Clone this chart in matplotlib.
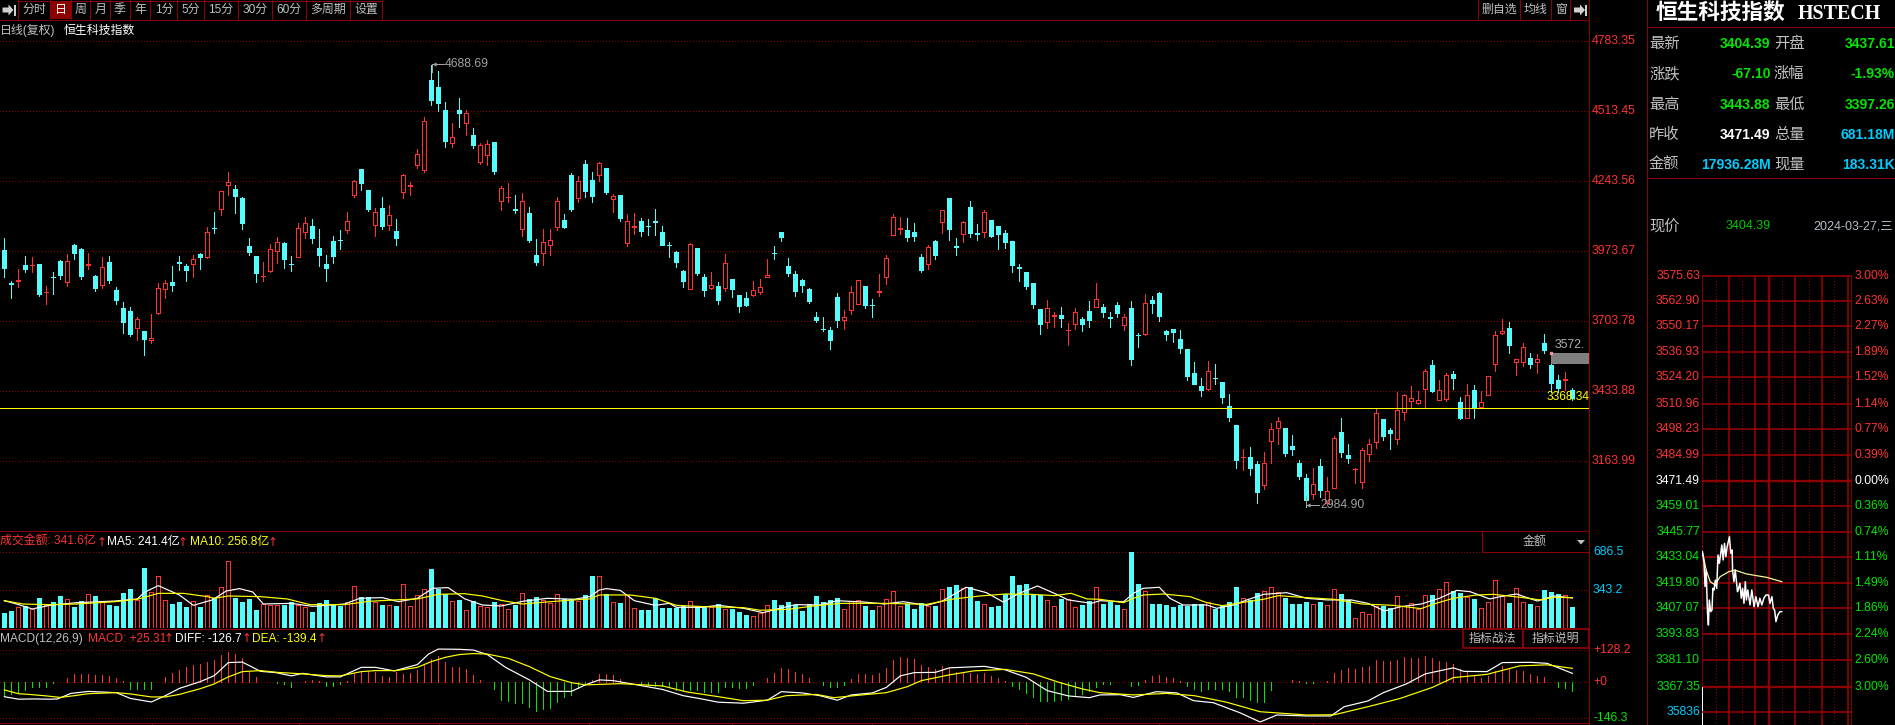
import matplotlib

matplotlib.use("Agg")

import matplotlib.pyplot as plt

# daily candles, index points
opens = [3976, 3849, 3857, 3918, 3917, 3922, 3813, 3873, 3934, 3854, 3995, 3980, 3920, 3876, 3841, 3930, 3822, 3753, 3741, 3676,
         3664, 3628, 3733, 3825, 3853, 3930, 3915, 3922, 3960, 3949, 4062, 4134, 4228, 4211, 4177, 3992, 3953, 3875, 3895, 3974,
         4003, 3923, 3951, 4044, 4069, 3984, 3922, 4011, 4016, 4055, 4188, 4288, 4208, 4073, 4138, 4073, 4049, 4201, 4225, 4304,
         4285, 4632, 4605, 4516, 4390, 4516, 4467, 4420, 4315, 4344, 4393, 4166, 4180, 4134, 4058, 4119, 3957, 3965, 3996, 4065,
         4092, 4265, 4177, 4308, 4246, 4265, 4292, 4173, 4188, 4003, 4066, 4088, 4070, 4088, 4046, 3996, 3969, 3895, 3827, 3984,
         3872, 3830, 3837, 3831, 3864, 3803, 3791, 3803, 3814, 3872, 3966, 4046, 3915, 3884, 3861, 3826, 3718, 3673, 3668, 3795,
         3706, 3745, 3768, 3837, 3765, 3816, 3873, 4034, 4059, 4053, 4046, 3949, 3922, 4011, 4085, 4177, 3991, 4038, 4142, 4041,
         4046, 4092, 4069, 4042, 4011, 3910, 3891, 3849, 3749, 3699, 3723, 3726, 3667, 3691, 3710, 3741, 3757, 3757, 3718, 3764,
         3687, 3753, 3650, 3652, 3783, 3810, 3664, 3672, 3633, 3595, 3502, 3452, 3440, 3483, 3467, 3375, 3302, 3177, 3178, 3151,
         3070, 3240, 3291, 3290, 3221, 3155, 3097, 3037, 3144, 3000, 3060, 3275, 3186, 3131, 3083, 3191, 3237, 3325, 3282, 3249,
         3353, 3395, 3385, 3439, 3533, 3399, 3402, 3498, 3390, 3330, 3437, 3370, 3416, 3535, 3655, 3676, 3543, 3543, 3560, 3546,
         3618, 3533, 3475, 3477, 3437.61]
highs = [4022, 3858, 3903, 3953, 3949, 3922, 3837, 3891, 3938, 3961, 3999, 3984, 3965, 3880, 3949, 3953, 3834, 3776, 3757, 3718,
         3664, 3730, 3849, 3861, 3915, 3953, 3922, 3957, 3965, 4065, 4123, 4204, 4277, 4227, 4181, 4023, 3953, 3930, 3999, 4026,
         4007, 3953, 4079, 4103, 4096, 4057, 3957, 4030, 4053, 4123, 4245, 4288, 4208, 4137, 4181, 4150, 4096, 4269, 4238, 4366,
         4489, 4688.69, 4666, 4547, 4466, 4562, 4516, 4447, 4389, 4400, 4393, 4223, 4235, 4188, 4196, 4142, 4019, 4057, 4057, 4181,
         4115, 4273, 4261, 4323, 4277, 4315, 4292, 4192, 4188, 4115, 4119, 4100, 4096, 4134, 4069, 4007, 3972, 3899, 4003, 3984,
         3884, 3891, 3853, 3961, 3864, 3803, 3814, 3857, 3864, 3942, 3992, 4046, 3945, 3895, 3864, 3830, 3737, 3718, 3679, 3810,
         3745, 3837, 3861, 3837, 3787, 3884, 3957, 4115, 4103, 4100, 4080, 3961, 3995, 4015, 4130, 4177, 4023, 4088, 4165, 4076,
         4130, 4092, 4069, 4053, 4011, 3922, 3891, 3849, 3749, 3783, 3737, 3757, 3695, 3753, 3718, 3780, 3849, 3768, 3737, 3776,
         3730, 3780, 3656, 3807, 3799, 3814, 3668, 3672, 3668, 3595, 3545, 3483, 3548, 3537, 3467, 3421, 3302, 3209, 3217, 3163,
         3198, 3309, 3332, 3290, 3263, 3165, 3113, 3136, 3171, 3101, 3259, 3329, 3228, 3136, 3213, 3248, 3363, 3325, 3290, 3429,
         3420, 3452, 3434, 3517, 3552, 3475, 3502, 3510, 3410, 3460, 3456, 3433, 3489, 3663, 3710, 3699, 3555, 3618, 3579, 3575,
         3652, 3580, 3494, 3506, 3443.88]
lows = [3873, 3791, 3834, 3891, 3893, 3799, 3768, 3807, 3864, 3837, 3942, 3864, 3903, 3818, 3830, 3849, 3768, 3656, 3645, 3629,
        3571, 3618, 3730, 3791, 3818, 3899, 3857, 3872, 3903, 3945, 4042, 4111, 4188, 4119, 4057, 3957, 3853, 3857, 3891, 3926,
        3907, 3895, 3949, 4023, 4003, 3915, 3857, 3926, 3980, 4042, 4181, 4208, 4127, 4030, 4057, 4053, 3995, 4177, 4188, 4292,
        4277, 4535, 4512, 4373, 4373, 4450, 4420, 4369, 4308, 4304, 4269, 4130, 4161, 4119, 4030, 4007, 3918, 3918, 3957, 4053,
        4061, 4127, 4161, 4181, 4161, 4242, 4192, 4123, 4088, 3992, 4038, 4030, 4034, 4034, 3995, 3949, 3911, 3834, 3826, 3880,
        3799, 3826, 3768, 3818, 3795, 3737, 3760, 3799, 3807, 3872, 3942, 4011, 3876, 3799, 3814, 3772, 3699, 3664, 3595, 3679,
        3672, 3730, 3768, 3753, 3718, 3799, 3845, 4034, 4038, 4011, 4011, 3891, 3903, 3942, 4042, 4015, 3957, 4007, 4026, 4015,
        4026, 4026, 3980, 3985, 3891, 3857, 3826, 3753, 3652, 3676, 3679, 3679, 3610, 3672, 3664, 3679, 3757, 3718, 3679, 3718,
        3668, 3533, 3602, 3649, 3733, 3703, 3629, 3622, 3579, 3475, 3460, 3413, 3437, 3460, 3386, 3317, 3136, 3128, 3109, 3001,
        3055, 3155, 3228, 3182, 3186, 3093, 2984.9, 3016, 3025, 2993, 3060, 3178, 3155, 3078, 3059, 3163, 3213, 3244, 3209, 3228,
        3321, 3370, 3381, 3370, 3428, 3399, 3395, 3439, 3325, 3330, 3329, 3370, 3416, 3510, 3651, 3580, 3494, 3529, 3521, 3502,
        3579, 3429, 3429, 3437, 3397.26]
closes = [3907, 3847, 3859, 3903, 3919, 3807, 3815, 3871, 3880, 3933, 3965, 3876, 3922, 3830, 3909, 3861, 3783, 3699, 3652, 3709,
          3633, 3636, 3828, 3848, 3841, 3928, 3899, 3940, 3949, 4044, 4060, 4202, 4238, 4184, 4080, 3969, 3888, 3877, 3979, 4007,
          3942, 3921, 4060, 4079, 4023, 3957, 3907, 3953, 4014, 4087, 4242, 4235, 4134, 4123, 4069, 4110, 4023, 4265, 4227, 4345,
          4472, 4554, 4543, 4396, 4411, 4504, 4503, 4381, 4380, 4384, 4281, 4214, 4182, 4132, 4165, 4015, 3930, 4007, 4014, 4165,
          4065, 4134, 4242, 4204, 4184, 4310, 4200, 4184, 4100, 4088, 4068, 4049, 4068, 4086, 3995, 3994, 3930, 3857, 3999, 3888,
          3822, 3841, 3783, 3925, 3826, 3760, 3764, 3822, 3832, 3880, 3964, 4026, 3888, 3818, 3841, 3780, 3706, 3671, 3629, 3706,
          3718, 3814, 3861, 3764, 3763, 3818, 3945, 4103, 4061, 4026, 4030, 3899, 3988, 3957, 4130, 4057, 3989, 4084, 4042, 4039,
          4123, 4030, 4038, 4008, 3918, 3908, 3838, 3768, 3691, 3753, 3725, 3714, 3669, 3737, 3691, 3706, 3787, 3737, 3716, 3733,
          3718, 3556, 3648, 3772, 3772, 3722, 3652, 3660, 3598, 3491, 3460, 3437, 3510, 3481, 3410, 3332, 3167, 3179, 3136, 3043,
          3155, 3286, 3317, 3194, 3209, 3105, 3014, 3073, 3051, 3047, 3250, 3198, 3174, 3133, 3205, 3228, 3348, 3259, 3271, 3359,
          3416, 3404, 3397, 3510, 3433, 3437, 3494, 3483, 3329, 3416, 3370, 3389, 3489, 3647, 3663, 3610, 3555, 3601, 3538, 3555,
          3591, 3464, 3444, 3479, 3404.39]

price_ticks = [4783.35, 4513.45, 4243.56, 3973.67, 3703.78, 3433.88, 3163.99]
cost_line = 3368.34

# turnover, 100m HKD
turnover = [136, 155, 188, 200, 173, 273, 212, 233, 291, 261, 191, 245, 309, 291, 233, 209, 200, 318, 355, 255,
            545, 327, 473, 255, 218, 236, 191, 245, 191, 300, 273, 373, 609, 273, 236, 264, 164, 218, 209, 209,
            209, 236, 209, 191, 145, 227, 255, 209, 203, 236, 382, 282, 282, 236, 209, 206, 200, 400, 200, 300,
            355, 536, 355, 309, 245, 255, 164, 245, 200, 188, 236, 215, 173, 209, 315, 264, 282, 255, 227, 309,
            264, 264, 245, 300, 473, 473, 309, 236, 227, 300, 182, 164, 164, 273, 182, 182, 182, 200, 245, 194,
            200, 188, 218, 173, 173, 145, 118, 109, 133, 209, 255, 209, 236, 209, 155, 218, 291, 236, 255, 273,
            173, 245, 255, 200, 164, 200, 264, 336, 200, 218, 173, 227, 200, 203, 355, 373, 391, 364, 373, 245,
            218, 191, 200, 309, 473, 391, 400, 300, 300, 255, 200, 264, 261, 191, 209, 245, 373, 218, 236, 209,
            173, 691, 400, 336, 218, 218, 209, 191, 209, 200, 218, 218, 233, 173, 200, 236, 373, 270, 255, 318,
            336, 373, 327, 273, 218, 218, 236, 218, 236, 209, 351, 309, 255, 91, 145, 127, 200, 200, 182, 291,
            200, 224, 173, 300, 300, 355, 418, 336, 318, 282, 264, 182, 236, 436, 291, 227, 364, 236, 218, 200,
            345, 327, 309, 300, 191]
turn_ma5_x = [0, 1.6, 4, 6.5, 10.3, 15.8, 19, 20, 22, 25, 27, 29.7, 31.7, 33.6, 35.5, 37, 41, 44, 48.6, 50.8, 54, 56.3, 59, 61.2,
              63.4, 65.8, 68.3, 71, 74, 77.6, 81.4, 83.6, 85, 86, 88, 90, 93, 95, 96, 99.6, 102, 105.6, 108.4, 110.8, 113, 116.5,
              119, 122.8, 125.7, 128.4, 131.8, 134, 137.4, 140.3, 142.7, 145, 147.6, 150, 152, 155.3, 156.5, 159.9, 161.3, 162.7,
              165, 166.5, 168.4, 171.8, 173.2, 175.6, 177.5, 179.9, 183.2, 186, 189, 192.4, 194.8, 197.2, 199.5, 202.4, 205, 207.5,
              209.4, 212.2, 213.7, 216, 219, 221.4, 224]
turn_ma5 = [248, 221, 173, 206, 230, 245, 264, 324, 385, 300, 206, 255, 336, 358, 327, 218, 224, 197, 218, 270, 276, 239, 270, 361,
            367, 264, 209, 200, 242, 270, 261, 285, 345, 358, 342, 248, 206, 224, 188, 188, 206, 179, 139, 179, 212, 209,
            248, 236, 218, 239, 206, 245, 370, 321, 236, 315, 382, 315, 255, 224, 248, 239, 315, 361,
            370, 270, 209, 209, 179, 209, 255, 306, 321, 270, 255, 255, 224, 155, 194, 218, 270, 342,
            330, 264, 285, 309, 245, 291, 273]
turn_ma10_x = [0, 2.7, 6.5, 10.3, 15.8, 19, 22, 25.6, 29, 30, 32, 36.6, 40.4, 43.7, 48.6, 52, 55.7, 59, 62, 65.7, 68.3, 71, 74, 78,
               81.4, 83.6, 85, 89.4, 93, 96, 100, 105.6, 108, 112, 115.6, 119.4, 125.7, 131.8, 135.6, 139.4, 143, 146.8, 150, 152.4,
               154.7, 156.5, 159.9, 161.3, 162.7, 165.6, 169.4, 171.8, 174, 177, 179.9, 182, 186, 190, 194, 198.4, 202.4, 204.2, 207,
               210.3, 212.7, 217, 219.4, 221.4, 224]
turn_ma10 = [248, 218, 212, 218, 239, 261, 315, 315, 285, 270, 291, 285, 264, 212, 212, 242, 255, 264, 306, 312, 291, 251, 218, 239,
             255, 264, 300, 300, 270, 206, 194, 185, 161, 170, 200, 224, 224, 215, 264, 291, 309, 306, 294, 315,
             264, 261, 230, 270, 300, 309, 285, 230, 203, 233, 261, 294, 276, 261, 218, 206, 176, 218, 270,
             300, 306, 276, 255, 279, 276]

macd_hist = [-56, -49, -44, -33, -21, -21, -21, -4, 0, 15, 29, 29, 31, 27, 28, 24, 13, 4, -29, -31,
             -29, -31, -3, 17, 35, 45, 60, 67, 70, 80, 86, 106, 118, 110, 96, 41, 19, -3, -3, -5,
             -8, -20, -3, 3, 5, 3, -16, -16, -8, 3, 33, 44, 41, 40, 23, 20, 40, 31, 33, 47,
             67, 90, 102, 78, 60, 57, 49, 28, 7, -1, -31, -73, -77, -84, -86, -100, -117, -109, -104, -80,
             -63, -53, -27, -11, 5, 29, 31, 27, 11, 0, -3, -8, -13, -16, -16, -23, -32, -35, -35, -35,
             -41, -41, -41, -20, -20, -25, -25, -12, -1, 13, 33, 53, 49, 37, 29, 16, -1, -12, -23, -21,
             -12, 9, 29, 29, 25, 33, 53, 85, 97, 93, 89, 65, 57, 49, 63, 53, 40, 36, 35, 31,
             35, 21, 13, 1, -16, -29, -44, -60, -77, -77, -77, -73, -69, -59, -48, -37, -21,
             -8, -8, -1, -1, -17, -13, 5, 24, 27, 19, 13, 3, -17, -31, -37, -31, -29, -29, -37, -60,
             -61, -73, -80, -80, -33, -3, -1, 5, 3, -4, -4, -3, 1, 35, 47, 56, 51, 59, 63, 86,
             82, 82, 86, 100, 94, 93, 102, 94, 82, 77, 69, 49, 37, 25, 16, 24, 43, 63, 56, 47,
             43, 32, 21, 19, -3, -21, -24, -37]
diff_x = [0, 2, 4, 6.5, 7.6, 9.5, 12, 16, 18, 21, 23, 25, 28, 30, 32, 34, 36.6, 38.8, 41, 42.6, 46, 48, 51, 53, 55.7, 59, 60.6, 62,
          65, 67, 69, 71.6, 75, 77.6, 81, 83, 85, 87, 90, 94, 97, 99.6, 102, 105.6, 109, 111, 114, 116.5, 119, 121, 124, 126, 128,
          130, 133, 135, 140, 143, 146, 149, 152, 155, 156.5, 159.4, 161.3, 164.6, 167.5, 169.9, 172.7, 176.5, 179.4, 181.8, 186,
          189.5, 191.4, 194.8, 197, 200.3, 203, 207, 208.5, 211.8, 214, 218, 220.4, 224]
diff_line = [-60, -70, -69, -70, -69, -47, -39, -44, -67, -81, -56, -27, 0, 24, 76, 78, 41, 36, 23, 33, 19, 19, 57, 57, 43, 68, 110, 130,
             129, 126, 108, 57, 7, -39, -39, -13, 7, 4, -11, -31, -56, -69, -82, -86, -74, -40, -45, -56, -74, -53, -45, -23, 23,
             36, 37, 55, 61, 47, 17, -36, -57, -64, -53, -52, -63, -40, -45, -76, -84, -124, -161, -133, -137,
             -137, -100, -77, -44, -9, 31, 55, 41, 40, 76, 77, 73, 33]
dea_x = [0, 2, 4, 6, 8, 10, 12, 16, 18, 21, 23, 25, 28, 30, 32, 34, 36.6, 39, 42, 46, 48, 51, 53, 56, 59, 61, 63, 65, 67, 69, 72, 75, 78,
         81, 83, 85, 88, 94, 97.5, 102, 105.6, 109, 111.7, 116, 118.5, 121, 126, 129, 131, 135, 138.5, 143, 147, 150.8, 154, 156.5,
         161.3, 166, 170, 174.6, 179.4, 186, 190, 194.8, 199.4, 204, 207, 211.8, 216.5, 220.4, 224]
dea_line = [-33, -48, -52, -57, -63, -56, -48, -44, -49, -61, -61, -51, -28, -9, 19, 40, 44, 37, 32, 24, 23, 40, 44, 44, 57, 80, 97, 108, 112, 110, 93, 60, 20,
            -4, -13, -11, -8, -17, -41, -60, -76, -74, -56, -51, -64, -57, -44, -20, 4, 27, 43, 49, 31, -4, -29, -44,
            -53, -47, -56, -82, -120, -133, -132, -100, -67, -23, 16, 29, 63, 67, 53]

# intraday panel
intraday_prices = [3575.63, 3562.90, 3550.17, 3536.93, 3524.20, 3510.96, 3498.23, 3484.99, 3471.49,
                   3459.01, 3445.77, 3433.04, 3419.80, 3407.07, 3393.83, 3381.10, 3367.35]
intraday_pcts = ["3.00%", "2.63%", "2.27%", "1.89%", "1.52%", "1.14%", "0.77%", "0.39%", "0.00%",
                 "0.36%", "0.74%", "1.11%", "1.49%", "1.86%", "2.24%", "2.60%", "3.00%"]
minute_solid = [62, 120, 209, 268, 326]
minute_dotted = [32, 91, 180, 239, 296]
trade_min = [1.5, 5, 7.5, 10, 13, 15, 17, 20, 23, 25, 27.5, 30.5, 33.5, 36.5, 39.5, 42.5, 45, 48, 51, 54, 57, 62, 65, 68, 69, 72, 75,
             80, 82.5, 85.5, 88.5, 91.5, 94.5, 97.5, 100, 103, 108, 112, 117, 121, 126, 130, 134.5, 139, 143.5, 149.5, 152.5,
             157, 160, 163, 166, 170, 175, 179]
trade_price = [3435.8, 3430.7, 3418.1, 3426.5, 3404.5, 3398.6, 3411.3, 3405.4, 3406.2, 3417.2, 3416.4, 3421.4, 3417.2, 3434.1, 3429.9,
               3435.0, 3439.2, 3431.6, 3440.0, 3433.3, 3438.4, 3443.4, 3435.0, 3436.7, 3426.5, 3420.6, 3426.5, 3415.5, 3417.2, 3419.8,
               3412.2, 3417.2, 3409.6, 3420.6, 3411.3, 3416.4, 3408.8, 3416.4, 3407.9, 3413.0, 3407.9, 3412.2, 3408.8, 3412.2, 3413.8,
               3413.8, 3409.6, 3413.0, 3407.1, 3406.2, 3400.3, 3403.7, 3405.4, 3405.4]
avg_min = [1.5, 10, 19, 30, 41, 60, 74, 100, 145, 179]
avg_price = [3435.8, 3426.5, 3420.6, 3418.9, 3423.1, 3425.6, 3426.5, 3424.5, 3422.8, 3420.6]

# quote table, right sidebar
quote_left = [("最新", "3404.39"), ("涨跌", "-67.10"), ("最高", "3443.88"), ("昨收", "3471.49"), ("金额", "17936.28M")]
quote_right = [("开盘", "3437.61"), ("涨幅", "-1.93%"), ("最低", "3397.26"), ("总量", "681.18M"), ("现量", "183.31K")]
quote_rows_y = [44.3, 74, 105, 134.6, 164.5]

left_buttons = ["分时", "日", "周", "月", "季", "年", "1分", "5分", "15分", "30分", "60分", "多周期", "设置"]
left_edges = [18.3, 50, 71, 90.3, 110, 130, 150.3, 177.3, 204, 238, 272.3, 306.3, 350.3, 382.3]
right_buttons = ["删自选", "均线", "窗"]
right_edges = [1478.3, 1520.3, 1551, 1570.3]

W, H = 1895, 725
DPI = 100
DARK_RED = "#8b0000"
GRID_RED = "#8b0000"
INTRADAY_RED = "#a00000"
UP = "#ff3232"
DOWN = "#54fcfc"
GREEN = "#00e600"
BLUE = "#00ccff"
GREY = "#c0c0c0"
YELLOW = "#ffff00"
PX = 72 / DPI
CURVE = 1.2 * PX
DOTS = (0, (1, 2.4))
SANS = ["Liberation Sans", "Noto Sans CJK SC"]

plt.rcParams["font.family"] = SANS
plt.rcParams["axes.unicode_minus"] = False


def px_axes(fig, x0, y0, x1, y1):
    """Axes placed by pixel box (y counted from the top)."""
    ax = fig.add_axes([x0 / W, 1 - y1 / H, (x1 - x0) / W, (y1 - y0) / H])
    ax.set_facecolor("none")
    ax.axis("off")
    return ax


def hgrid(ax, levels, x0=0, x1=1):
    for level in levels:
        ax.axhline(level, x0, x1, color=GRID_RED, lw=PX, ls=DOTS, zorder=1, antialiased=False)


def draw_candles(ax):
    for i in range(len(opens)):
        o, h, l, c = opens[i], highs[i], lows[i], closes[i]
        top, bottom = max(o, c), min(o, c)
        up = c >= o
        color = UP if up else DOWN
        ax.vlines(i, top, h, color=color, lw=PX, zorder=3, antialiased=False)
        ax.vlines(i, l, bottom, color=color, lw=PX, zorder=3, antialiased=False)
        ax.bar(i, top - bottom, 4.2 / 7, bottom, facecolor="black" if up else DOWN,
               edgecolor=color, lw=PX, zorder=4, antialiased=False)


def draw_main(fig):
    ax = px_axes(fig, 0, 19.5, 1589, 531)
    ax.set_xlim(-0.619, 226.38)
    ax.set_ylim(2892.9, 4865.1)
    hgrid(ax, price_ticks)
    draw_candles(ax)
    ax.axhline(cost_line, color=YELLOW, lw=PX, zorder=5, antialiased=False)
    return ax


def draw_turnover(fig):
    ax = px_axes(fig, 0, 531.5, 1589, 628)
    ax.set_xlim(-0.619, 226.38)
    ax.set_ylim(0, 877)
    hgrid(ax, [686.5, 343.2])
    for i, value in enumerate(turnover):
        up = closes[i] >= opens[i]
        ax.bar(i, value, 4.2 / 7, facecolor="black" if up else DOWN,
               edgecolor=UP if up else DOWN, lw=PX, zorder=3, antialiased=False)
    ax.plot(turn_ma5_x, turn_ma5, color="white", lw=CURVE, zorder=5)
    ax.plot(turn_ma10_x, turn_ma10, color=YELLOW, lw=CURVE, zorder=5)


def draw_macd(fig):
    ax = px_axes(fig, 0, 629, 1589, 722.5)
    ax.set_xlim(-0.619, 226.38)
    ax.set_ylim(-163, 210)
    hgrid(ax, [128.2, 0, -146.3])
    for i, value in enumerate(macd_hist):
        ax.vlines(i, 0, value, color=UP if value > 0 else GREEN, lw=PX, zorder=3, antialiased=False)
    ax.plot(diff_x, diff_line, color="white", lw=CURVE, zorder=5)
    ax.plot(dea_x, dea_line, color=YELLOW, lw=CURVE, zorder=5)


def draw_intraday(fig, chrome):
    ax = px_axes(fig, 1701.7, 276, 1852, 725)
    ax.set_xlim(0, 336)
    ax.set_ylim(3347.9, 3575.63)
    base = intraday_prices[8]
    for price in intraday_prices:
        thick = price in (base, intraday_prices[-1])
        ax.hlines(price, 0, 336, color=DARK_RED if thick else INTRADAY_RED, lw=(2.4 if thick else 1.5) * PX,
                  zorder=1, clip_on=False)
    for minute in minute_solid + [0, 336]:
        ax.axvline(minute, color=INTRADAY_RED, lw=1.5 * PX, zorder=1)
    for minute in minute_dotted:
        ax.axvline(minute, color=DARK_RED, lw=PX, ls=DOTS, zorder=1, antialiased=False)
    ax.axvline(150, color=DARK_RED, lw=2.4 * PX, zorder=1)
    ax.plot(avg_min, avg_price, color="#ffff99", lw=CURVE, zorder=4)
    ax.plot(trade_min, trade_price, color="white", lw=1.5 * PX, zorder=5)
    ax.vlines(trade_min[0], 3347.9, intraday_prices[-1], color="white", lw=PX, zorder=5, antialiased=False)

    for price, pct in zip(intraday_prices, intraday_pcts):
        if price > base:
            color = UP
        elif price < base:
            color = GREEN
        else:
            color = "white"
        y = 276 + (3575.63 - price) / 0.16906 / 3
        chrome.text(1700, y, f"{price:.2f}", color=color, fontsize=8.8, ha="right", va="center")
        chrome.text(1854.5, y, pct, color=color, fontsize=8.8, ha="left", va="center")
    chrome.hlines(712.3, 1701.7, 1852, color=INTRADAY_RED, lw=1.5 * PX)
    chrome.text(1700, 712.3, "35836", color=BLUE, fontsize=8.8, ha="right", va="center")


def arrow_icon(ax, x, y, color="#d0d0d0"):
    ax.fill([x, x + 6, x + 6, x + 11, x + 6, x + 6, x],
            [y - 2.5, y - 2.5, y - 5.5, y, y + 5.5, y + 2.5, y + 2.5], color=color, lw=0)
    ax.fill([x + 11, x + 13, x + 13, x + 11], [y - 5.5, y - 5.5, y + 5.5, y + 5.5], color=color, lw=0)


def draw_toolbar(ax):
    arrow_icon(ax, 2.5, 10)
    ax.hlines(19.5, 0, 1589, color=DARK_RED, lw=PX, antialiased=False)
    ax.hlines(0.5, 18.3, 382.3, color=DARK_RED, lw=PX, antialiased=False)
    ax.fill([50, 71, 71, 50], [1, 1, 19, 19], color="#8b0000", lw=0)
    for i, label in enumerate(left_buttons):
        x0, x1 = left_edges[i], left_edges[i + 1]
        ax.text((x0 + x1) / 2, 10, label, color="white" if label == "日" else GREY, fontsize=8.6,
                ha="center", va="center")
    ax.vlines(left_edges, 0, 19.5, color=DARK_RED, lw=PX, antialiased=False)
    for i, label in enumerate(right_buttons):
        x0, x1 = right_edges[i], right_edges[i + 1]
        ax.text((x0 + x1) / 2, 10, label, color=GREY, fontsize=8.6, ha="center", va="center")
    ax.vlines(right_edges, 0, 19.5, color=DARK_RED, lw=PX, antialiased=False)
    arrow_icon(ax, 1574, 10)
    ax.text(0, 30.5, "日线(复权)", color=GREY, fontsize=8.6, va="center")
    ax.text(64, 30.5, "恒生科技指数", color="white", fontsize=8.6, va="center")


def draw_panel_labels(ax):
    # price axis
    for price in price_ticks:
        y = 40.7 + (4783.35 - price) / 3.8556
        ax.text(1592, y, f"{price:.2f}", color=UP, fontsize=8.8, va="center")
    ax.text(1593, 552.3, "686.5", color=BLUE, fontsize=8.8, va="center")
    ax.text(1593, 590.3, "343.2", color=BLUE, fontsize=8.8, va="center")
    ax.text(1593, 650, "+128.2", color=UP, fontsize=8.8, va="center")
    ax.text(1593, 681.7, "+0", color=UP, fontsize=8.8, va="center")
    ax.text(1593, 717.7, "-146.3", color=GREEN, fontsize=8.8, va="center")

    # high / low marks
    mark = "#a0a0a0"
    ax.plot([432, 444], [64, 64], color=mark, lw=PX)
    ax.plot([432, 432], [64, 72], color=mark, lw=PX)
    ax.plot([434], [64], "<", color=mark, ms=3, mew=0)
    ax.text(445, 64, "4688.69", color=mark, fontsize=8.8, va="center", zorder=7)
    ax.plot([1306, 1319], [505, 505], color=mark, lw=PX)
    ax.plot([1306, 1306], [497, 505], color=mark, lw=PX)
    ax.plot([1308], [505], "<", color=mark, ms=3, mew=0)
    ax.text(1320, 505, "2984.90", color=mark, fontsize=8.8, va="center", zorder=7)
    ax.text(1555, 345, "3572.", color="#b0b0b0", fontsize=8.8, va="center")
    ax.fill([1551, 1589, 1589, 1551], [353, 353, 364, 364], color="#7f7f7f", lw=0, zorder=6)
    ax.plot([1551], [353], "s", color="#ff9090", ms=2, zorder=7)
    ax.text(1547, 397, "3368.34", color=YELLOW, fontsize=8.6, va="center", zorder=7)

    # turnover header
    ax.text(0, 542, "成交金额: 341.6亿", color=UP, fontsize=8.6, va="center")
    ax.text(97, 542, "↑", color=UP, fontsize=8.6, va="center", family=["DejaVu Sans"])
    ax.text(107, 542, "MA5: 241.4亿", color="white", fontsize=8.6, va="center")
    ax.text(178, 542, "↑", color=UP, fontsize=8.6, va="center", family=["DejaVu Sans"])
    ax.text(190, 542, "MA10: 256.8亿", color=YELLOW, fontsize=8.6, va="center")
    ax.text(268, 542, "↑", color=UP, fontsize=8.6, va="center", family=["DejaVu Sans"])
    ax.hlines(551.7, 1481.7, 1589, color=DARK_RED, lw=PX, antialiased=False)
    ax.vlines(1481.7, 531, 551.7, color=DARK_RED, lw=PX, antialiased=False)
    ax.text(1535, 542, "金额", color=GREY, fontsize=8.6, ha="center", va="center")
    ax.fill([1577, 1585, 1581], [540, 540, 544.5], color=GREY, lw=0)

    # macd header
    ax.text(0, 639, "MACD(12,26,9)", color=GREY, fontsize=8.6, va="center")
    ax.text(88, 639, "MACD: +25.31", color=UP, fontsize=8.6, va="center")
    ax.text(164, 639, "↑", color=UP, fontsize=8.6, va="center", family=["DejaVu Sans"])
    ax.text(175, 639, "DIFF: -126.7", color="white", fontsize=8.6, va="center")
    ax.text(242, 639, "↑", color=UP, fontsize=8.6, va="center", family=["DejaVu Sans"])
    ax.text(252, 639, "DEA: -139.4", color=YELLOW, fontsize=8.6, va="center")
    ax.text(317, 639, "↑", color=UP, fontsize=8.6, va="center", family=["DejaVu Sans"])
    for x0, x1, label in [(1463, 1522.7, "指标战法"), (1522.7, 1589, "指标说明")]:
        ax.plot([x0, x1, x1, x0, x0], [628.7, 628.7, 648.3, 648.3, 628.7], color=DARK_RED, lw=1.8 * PX)
        ax.text((x0 + x1) / 2, 638.5, label, color=GREY, fontsize=8.6, ha="center", va="center")


def draw_sidebar(ax):
    ax.vlines(1589, 0, H, color=DARK_RED, lw=PX, antialiased=False)
    ax.vlines(1646.7, 0, H, color=DARK_RED, lw=PX, antialiased=False)
    ax.hlines([27.3, 178.3], 1646.7, W, color=DARK_RED, lw=PX, antialiased=False)
    ax.text(1656, 13.5, "恒生科技指数", color="white", fontsize=15.6, fontweight="bold", va="center")
    ax.text(1798, 13.5, "HSTECH", color="white", fontsize=14.4, fontweight="bold", va="center",
            family=["Liberation Serif"])
    quote_colors = [GREEN, GREEN, GREEN, "white", BLUE]
    right_colors = [GREEN, GREEN, GREEN, BLUE, BLUE]
    for i, y in enumerate(quote_rows_y):
        ax.text(1649, y, quote_left[i][0], color=GREY, fontsize=11, va="center")
        ax.text(1770.7, y, quote_left[i][1], color=quote_colors[i], fontsize=10, fontweight="bold",
                ha="right", va="center")
        ax.text(1774, y, quote_right[i][0], color=GREY, fontsize=11, va="center")
        ax.text(1895, y, quote_right[i][1], color=right_colors[i], fontsize=10, fontweight="bold",
                ha="right", va="center")
    ax.text(1649, 226, "现价", color=GREY, fontsize=11, va="center")
    ax.text(1770.7, 226, "3404.39", color="#00c800", fontsize=9, ha="right", va="center")
    ax.text(1813.3, 226, "2024-03-27,三", color="#b4bcc8", fontsize=9, va="center")


def main():
    fig = plt.figure(figsize=(W / DPI, H / DPI), dpi=DPI, facecolor="black")

    draw_main(fig)
    draw_turnover(fig)
    draw_macd(fig)

    # everything outside the data panels is placed in pixels
    chrome = fig.add_axes([0, 0, 1, 1])
    chrome.set_xlim(0, W)
    chrome.set_ylim(H, 0)
    chrome.set_facecolor("none")
    chrome.axis("off")
    chrome.set_zorder(10)

    draw_intraday(fig, chrome)
    draw_toolbar(chrome)
    chrome.hlines([531, 628.5, 722.5], 0, 1589, color=DARK_RED, lw=PX, antialiased=False)
    for tick in [152, 298.5, 438.6, 589, 732, 872, 1026, 1159, 1313, 1447]:
        chrome.vlines(tick, 722.5, H, color=DARK_RED, lw=PX, antialiased=False)
    draw_panel_labels(chrome)
    draw_sidebar(chrome)

    fig.savefig("out.png", dpi=DPI, facecolor="black")
    plt.close(fig)


if __name__ == "__main__":
    for series in (opens, highs, lows, closes, turnover, macd_hist):
        assert len(series) == 225, len(series)
    main()
